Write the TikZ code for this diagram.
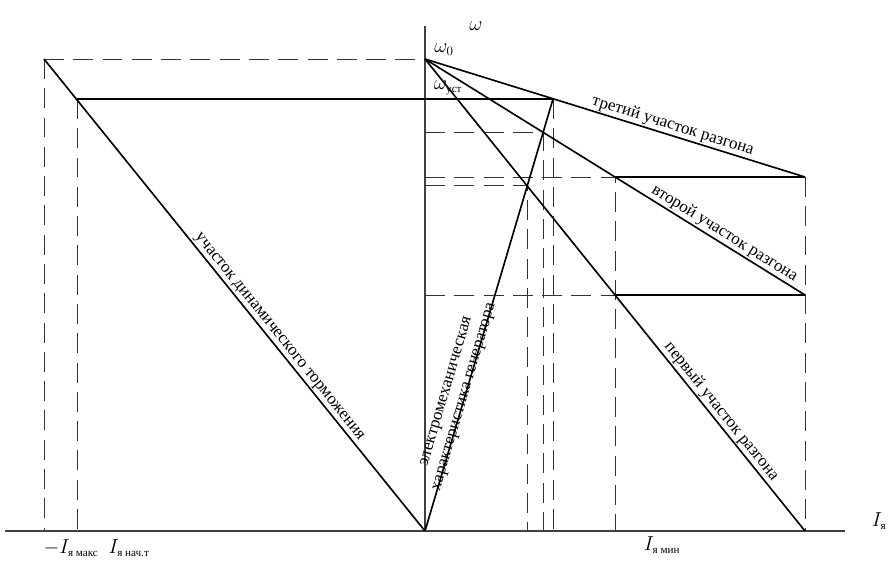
\documentclass[tikz,border=0pt]{standalone}
\usepackage{amsmath}
\usepackage{fontspec}
\setmainfont{Liberation Serif}
\newcommand{\subtxt}[1]{\text{\fontsize{9.5}{10}\selectfont #1}}
\begin{document}
\begin{tikzpicture}[x=0.03cm,y=-0.03cm,
	line/.style={line width=1.4pt},
	axis/.style={line width=2pt,black!75},
	guide/.style={line width=0.7pt,black!80,dash pattern=on 17pt off 8pt},
	lbl/.style={font=\fontsize{14.5}{16}\selectfont,inner sep=1pt},
	tag/.style={font=\fontsize{16}{18}\selectfont,inner sep=1pt}]
	\useasboundingbox (0,0) rectangle (892,561);
	% points of the characteristics
	\coordinate (O) at (425,531);
	\coordinate (W0) at (425,59);
	\coordinate (A) at (44,59);
	\coordinate (B) at (77,99);
	\coordinate (C) at (553,99);
	\coordinate (D) at (543,132);
	\coordinate (E) at (527,185);
	\coordinate (F) at (615,177);
	\coordinate (G) at (805,177);
	\coordinate (H) at (615,295);
	\coordinate (K) at (805,295);
	\coordinate (L) at (805,531);
	% axes
	\draw[axis] (5,531) coordinate (xl) -- (845,531) coordinate (xr);
	\draw[axis] (425,26) coordinate (yt) -- (O);
	% dashed guides
	\draw[guide] (A) -- (W0);
	\draw[guide] (A) -- (A |- O);
	\draw[guide] (B) -- (B |- O);
	\draw[guide] (W0 |- D) -- (D) -- (D |- O);
	\draw[guide] (W0 |- F) -- (F) -- (F |- O);
	\draw[guide] (W0 |- E) -- (E) -- (E |- O);
	\draw[guide] (W0 |- H) -- (H);
	\draw[guide] (C) -- (C |- O);
	\draw[guide] (G) -- (L);
	% characteristics
	\draw[line] (A) -- (O) node[lbl,pos=0.60,sloped,above] {участок динамического торможения};
	\draw[line] (B) -- (C);
	\draw[line] (O) -- (C) node[lbl,pos=0.31,sloped,above=-7pt,align=center] {электромеханическая\\характеристика генератора};
	\draw[line] (W0) -- (G) node[lbl,pos=0.645,sloped,above] {третий участок разгона};
	\draw[line] (W0) -- (K) node[lbl,pos=0.775,sloped,above] {второй участок разгона};
	\draw[line] (W0) -- (L) node[lbl,pos=0.76,sloped,above] {первый участок разгона};
	\draw[line] (F) -- (G);
	\draw[line] (H) -- (K);
	% axis labels
	\node[tag] (om) at (476,26) {$\omega$};
	\node[tag] (om0) at (444,50) {$\omega_0$};
	\node[tag] (omu) at (448,88) {$\omega_{\subtxt{уст}}$};
	\node[tag] (ia) at (879,521) {$I_{\subtxt{я}}$};
	\node[tag] (imax) at (71,548) {$-I_{\subtxt{я макс}}$};
	\node[tag] (inach) at (129,548) {$I_{\subtxt{я нач.т}}$};
	\node[tag] (imin) at (662,545) {$I_{\subtxt{я мин}}$};
\end{tikzpicture}
\end{document}
